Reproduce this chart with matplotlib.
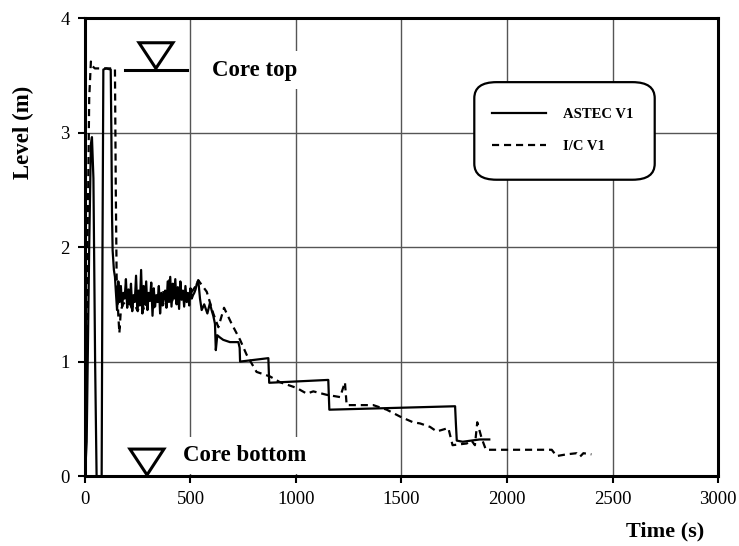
import numpy as np
import matplotlib.pyplot as plt
from matplotlib.patches import FancyBboxPatch, Polygon

plt.rcParams['font.family'] = ['Liberation Serif', 'DejaVu Serif']

# ASTEC V1 (solid)
t_astec = [0, 8, 20, 28, 33, 40, 48, 55, 79, 83, 87, 100, 122, 125, 128, 131, 137, 142,
           146, 152, 158, 164, 170, 176, 182, 188, 194, 200, 206, 212, 218, 224, 230, 236,
           242, 248, 254, 260, 266, 272, 278, 284, 290, 296, 302, 308, 314, 320, 326, 332,
           338, 344, 350, 356, 362, 368, 374, 380, 386, 392, 398, 404, 410, 416, 422, 428,
           434, 440, 446, 452, 458, 464, 470, 476, 482, 488, 494, 500, 506, 512, 518, 524,
           530, 537, 545, 553, 565, 580, 592, 600, 608, 616, 620, 627, 640, 655, 687, 727,
           733, 735, 869, 873, 1153, 1158, 1754, 1758, 1762, 1790, 1830, 1870, 1916]
lvl_astec = [0, 0.3, 2.0, 2.9, 2.96, 2.6, 1.0, 0, 0, 2.0, 3.55, 3.56, 3.55, 3.0, 2.3, 1.97, 1.8, 1.74,
             1.62, 1.45, 1.70, 1.52, 1.66, 1.48, 1.60, 1.55, 1.72, 1.47, 1.63, 1.50, 1.68, 1.44, 1.58, 1.52,
             1.75, 1.46, 1.62, 1.49, 1.80, 1.42, 1.66, 1.50, 1.70, 1.45, 1.60, 1.53, 1.69, 1.40, 1.64, 1.48,
             1.58, 1.52, 1.66, 1.42, 1.60, 1.49, 1.56, 1.62, 1.47, 1.70, 1.52, 1.74, 1.48, 1.68, 1.55, 1.72,
             1.50, 1.65, 1.46, 1.70, 1.54, 1.62, 1.48, 1.66, 1.52, 1.60, 1.49, 1.64, 1.55, 1.58, 1.60, 1.63,
             1.68, 1.71, 1.55, 1.45, 1.50, 1.42, 1.51, 1.45, 1.40, 1.33, 1.10, 1.23, 1.21, 1.19, 1.17, 1.17,
             1.12, 1.00, 1.03, 0.815, 0.84, 0.58, 0.61, 0.45, 0.31, 0.30, 0.31, 0.32, 0.32]

# I/C V1 (dashed)
t_ic = [0, 5, 12, 20, 28, 35, 47, 142, 146, 150, 158, 163, 170, 180, 190, 205, 220, 235, 250,
        265, 280, 295, 310, 325, 340, 355, 370, 385, 400, 410, 420, 435, 450, 465, 480, 495,
        510, 525, 537, 577, 608, 632, 659, 695, 735, 766, 813, 877, 924, 1003, 1051, 1082,
        1145, 1209, 1232, 1240, 1366, 1430, 1493, 1555, 1588, 1635, 1667, 1722, 1742, 1809,
        1832, 1848, 1859, 1880, 1900, 2212, 2235, 2282, 2330, 2346, 2362, 2400]
lvl_ic = [0, 0.5, 2.0, 3.3, 3.62, 3.58, 3.56, 3.56, 2.5, 1.74, 1.4, 1.25, 1.45, 1.50, 1.52, 1.58, 1.47, 1.50, 1.44,
          1.56, 1.45, 1.52, 1.60, 1.47, 1.55, 1.50, 1.62, 1.48, 1.72, 1.50, 1.58, 1.52, 1.62, 1.55, 1.60, 1.58,
          1.62, 1.66, 1.71, 1.61, 1.42, 1.30, 1.47, 1.33, 1.19, 1.06, 0.91, 0.87, 0.82, 0.77, 0.72, 0.74,
          0.71, 0.69, 0.82, 0.62, 0.62, 0.58, 0.52, 0.47, 0.46, 0.43, 0.39, 0.42, 0.27, 0.285,
          0.31, 0.27, 0.47, 0.33, 0.23, 0.23, 0.175, 0.19, 0.20, 0.17, 0.20, 0.19]

fig = plt.figure(figsize=(7.39, 5.46), dpi=100)
ax = fig.add_axes([0.115, 0.128, 0.8566, 0.839])

ax.plot(t_astec, lvl_astec, color='black', lw=1.6, label='ASTEC V1', zorder=3)
ax.plot(t_ic, lvl_ic, color='black', lw=1.6, ls=(0, (3.2, 2.2)), label='I/C V1', zorder=3)

ax.set_xlim(0, 3000)
ax.set_ylim(0, 4)
ax.set_xticks(np.arange(0, 3001, 500))
ax.set_yticks(np.arange(0, 5, 1))
ax.grid(True, color='#555555', lw=1.0, zorder=0)
ax.set_axisbelow(True)
for s in ax.spines.values():
    s.set_linewidth(2.2)
ax.tick_params(direction='out', length=5, width=1.5, labelsize=13.5, pad=6)

ax.set_xlabel('Time (s)', fontsize=16, fontweight='bold')
ax.xaxis.set_label_coords(0.917, -0.1)
ax.set_ylabel('Level (m)', fontsize=16.5, fontweight='bold')
ax.yaxis.set_label_coords(-0.081, 0.75)

# core top marker
ax.add_patch(Polygon([[256, 3.784], [417, 3.784], [336, 3.56]], closed=True,
                     fill=False, edgecolor='black', lw=2.2, zorder=4))
ax.plot([190, 483], [3.546, 3.546], color='black', lw=2.2, zorder=4)
ax.text(602, 3.546, 'Core top', fontsize=16.5, fontweight='bold', va='center', ha='left',
        bbox=dict(facecolor='white', edgecolor='none', pad=6), zorder=4)

# core bottom marker
ax.add_patch(Polygon([[213, 0.236], [374, 0.236], [294, 0.01]], closed=True,
                     facecolor='white', edgecolor='black', lw=2.2, zorder=4))
ax.text(464, 0.18, 'Core bottom', fontsize=16.5, fontweight='bold', va='center', ha='left',
        bbox=dict(facecolor='white', edgecolor='none', pad=6), zorder=4)

# legend box
box = FancyBboxPatch((0.615, 0.647), 0.285, 0.213, boxstyle='round,pad=0,rounding_size=0.035',
                     transform=ax.transAxes, facecolor='white', edgecolor='black', lw=1.6, zorder=5)
ax.add_patch(box)
leg = ax.legend(loc='center left', bbox_to_anchor=(0.643, 0.754), frameon=False,
                borderpad=0, borderaxespad=0, handlelength=3.7, handletextpad=1.2,
                labelspacing=1.3, prop={'size': 10.5, 'weight': 'bold'})
leg.set_zorder(6)

plt.savefig('out.png', dpi=100)
